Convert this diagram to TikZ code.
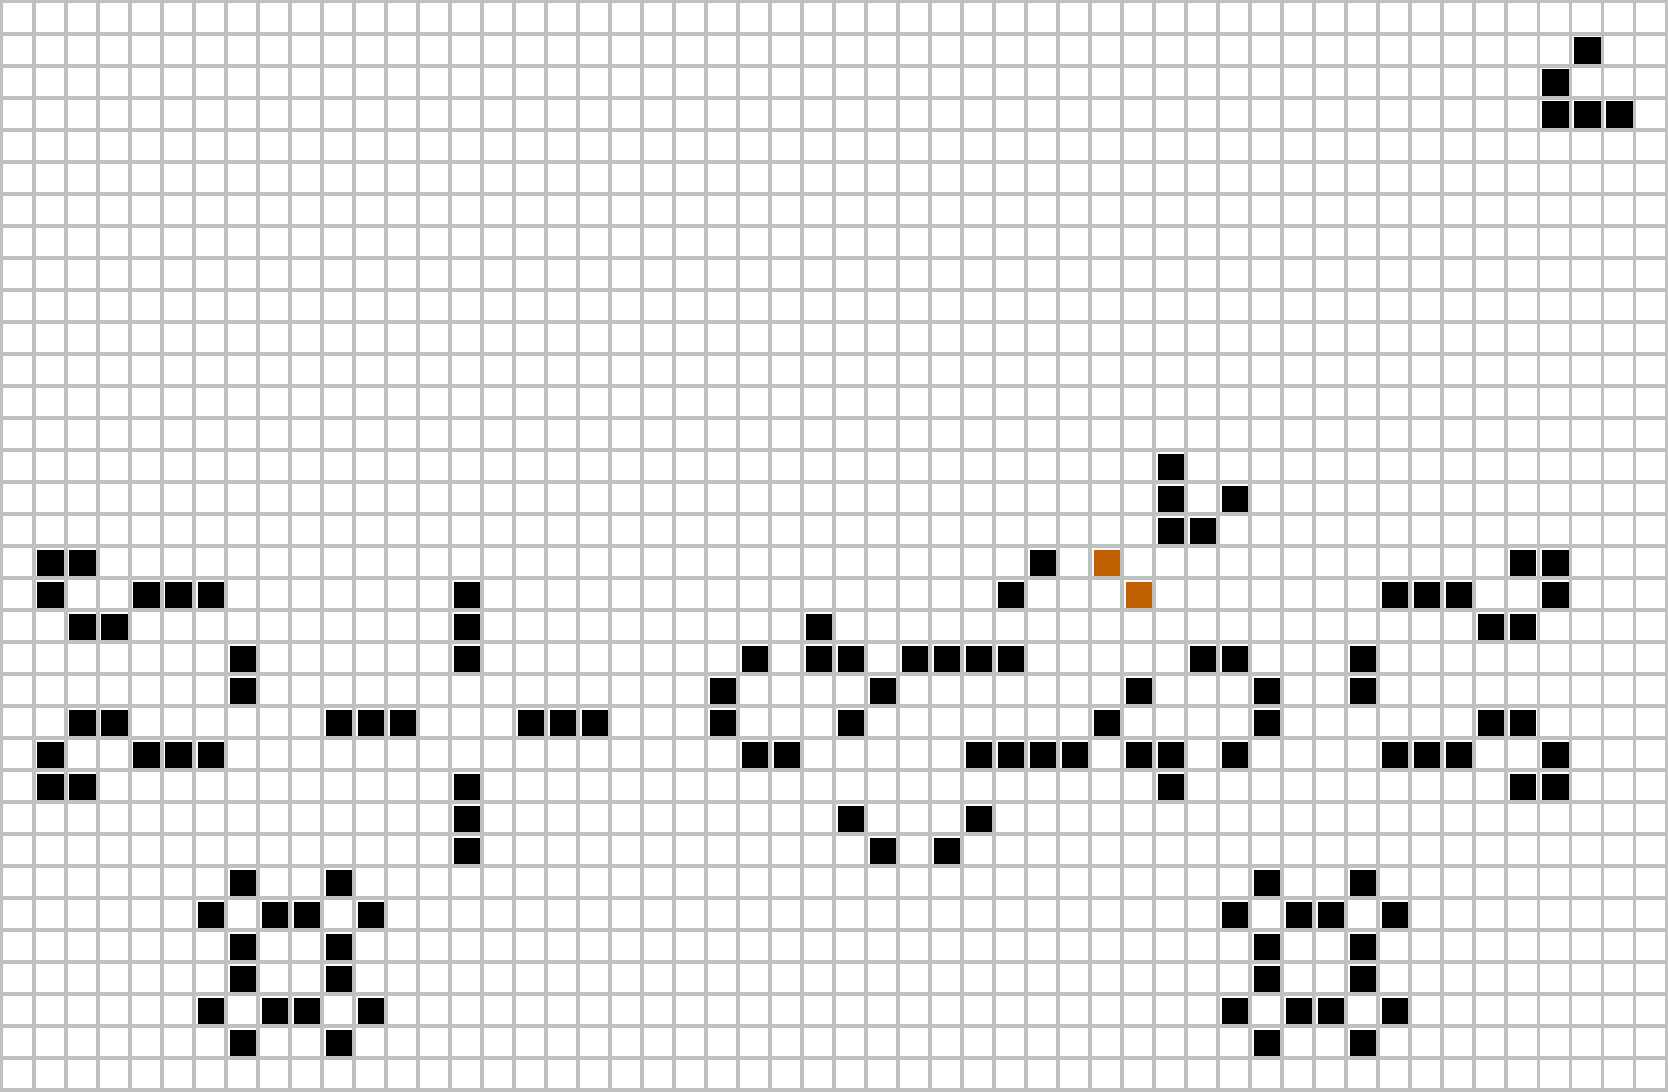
\documentclass[tikz,border=0pt]{standalone}
\definecolor{gridgray}{RGB}{192,192,192}
\definecolor{cellorange}{RGB}{192,96,0}
\tikzset{
  gridline/.style={draw=gridgray, line width=0.109cm},
  livecell/.style={fill=black},
  markcell/.style={fill=cellorange}
}
\newcommand{\cellat}[3]{\fill[#1] (#2+0.17,-#3-0.17) rectangle ++(0.83,-0.83);}
\begin{document}
\begin{tikzpicture}
\useasboundingbox (0,0) rectangle (52.109,-34.109);
\fill[white] (0,0) rectangle (52.109,-34.109);
% live cells
\foreach \c/\r in {49/1,48/2,48/3,49/3,50/3,
 36/14,36/15,38/15,36/16,37/16,
 1/17,2/17,32/17,47/17,48/17,
 1/18,4/18,5/18,6/18,14/18,31/18,43/18,44/18,45/18,48/18,
 2/19,3/19,14/19,25/19,46/19,47/19,
 7/20,14/20,23/20,25/20,26/20,28/20,29/20,30/20,31/20,37/20,38/20,42/20,
 7/21,22/21,27/21,35/21,39/21,42/21,
 2/22,3/22,10/22,11/22,12/22,16/22,17/22,18/22,22/22,26/22,34/22,39/22,46/22,47/22,
 1/23,4/23,5/23,6/23,23/23,24/23,30/23,31/23,32/23,33/23,35/23,36/23,38/23,43/23,44/23,45/23,48/23,
 1/24,2/24,14/24,36/24,47/24,48/24,
 14/25,26/25,30/25,
 14/26,27/26,29/26,
 7/27,10/27,39/27,42/27,
 6/28,8/28,9/28,11/28,38/28,40/28,41/28,43/28,
 7/29,10/29,39/29,42/29,
 7/30,10/30,39/30,42/30,
 6/31,8/31,9/31,11/31,38/31,40/31,41/31,43/31,
 7/32,10/32,39/32,42/32}
 {\cellat{livecell}{\c}{\r}}
% marked cells
\foreach \c/\r in {34/17,35/18}
 {\cellat{markcell}{\c}{\r}}
% grid
\foreach \k in {0,...,52}
 {\draw[gridline] (\k+0.0547,0) -- (\k+0.0547,-34.109);}
\foreach \k in {0,...,34}
 {\draw[gridline] (0,-\k-0.0547) -- (52.109,-\k-0.0547);}
\end{tikzpicture}
\end{document}
